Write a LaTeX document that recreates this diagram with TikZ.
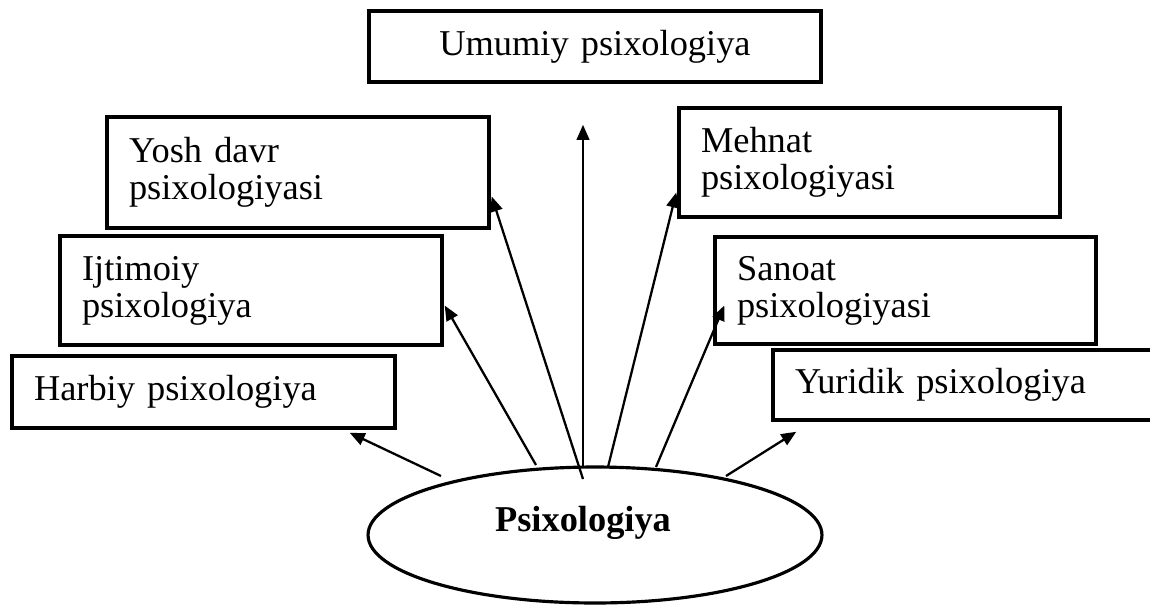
\documentclass[tikz,border=0pt]{standalone}
\usepackage{fontspec}
\setmainfont{Liberation Serif}
\usetikzlibrary{arrows.meta, shapes.geometric, calc}

\begin{document}
\begin{tikzpicture}[x=0.02cm, y=-0.02cm,
    every node/.style={font=\fontsize{20.7pt}{21pt}\selectfont},
    bolim/.style={draw, line width=2pt, align=left, inner xsep=0.44cm, inner ysep=0pt},
    strelka/.style={-{Triangle[length=0.3cm,width=0.25cm]}, line width=1.3pt}]
  \useasboundingbox (0,0) rectangle (1150,606);

  % Markaziy ellips
  \node[draw, ellipse, line width=1.8pt, minimum width=9.08cm, minimum height=2.72cm] (psi) at (595,535) {};
  \node[anchor=base, font=\fontsize{20.7pt}{21pt}\selectfont\bfseries] (psitext) at ([shift={(-12,-4)}]psi.center) {Psixologiya};

  % Bo'limlar
  \node[bolim, align=center, text width=8.16cm, minimum height=1.42cm] (umumiy) at (595,46.5) {Umumiy psixologiya};
  \node[bolim, text width=6.76cm, minimum height=2.22cm] (yosh) at (298,172.5) {Yosh davr\\psixologiyasi};
  \node[bolim, text width=6.76cm, minimum height=2.18cm] (ijtimoiy) at (251,290.5) {Ijtimoiy\\psixologiya};
  \node[bolim, text width=6.78cm, minimum height=1.44cm] (harbiy) at (203.5,392) {Harbiy psixologiya};
  \node[bolim, text width=6.74cm, minimum height=2.18cm] (mehnat) at (869.5,162.5) {Mehnat\\psixologiyasi};
  \node[bolim, text width=6.74cm, minimum height=2.14cm] (sanoat) at (905.5,290.5) {Sanoat\\psixologiyasi};
  \node[bolim, text width=6.80cm, minimum height=1.40cm] (yuridik) at (965,385) {Yuridik psixologiya};

  % Strelkalar
  \draw[strelka] ([shift={(-154,-59)}]psi.center) -- ([shift={(-47,3)}]harbiy.south east);
  \draw[strelka] ([shift={(-59,-70)}]psi.center) -- ([shift={(1,15)}]ijtimoiy.east);
  \draw[strelka] ([shift={(-12,-56)}]psi.center) -- ([shift={(1,24)}]yosh.east);
  \draw[strelka] ([shift={(-12,-67)}]psi.center) -- ([shift={(-12,41)}]umumiy.south);
  \draw[strelka] ([shift={(13,-68)}]psi.center) -- ([shift={(-1,30)}]mehnat.west);
  \draw[strelka] ([shift={(61,-68)}]psi.center) -- ([shift={(11,15)}]sanoat.west);
  \draw[strelka] ([shift={(131,-59)}]psi.center) -- ([shift={(25,10)}]yuridik.south west);
\end{tikzpicture}
\end{document}
